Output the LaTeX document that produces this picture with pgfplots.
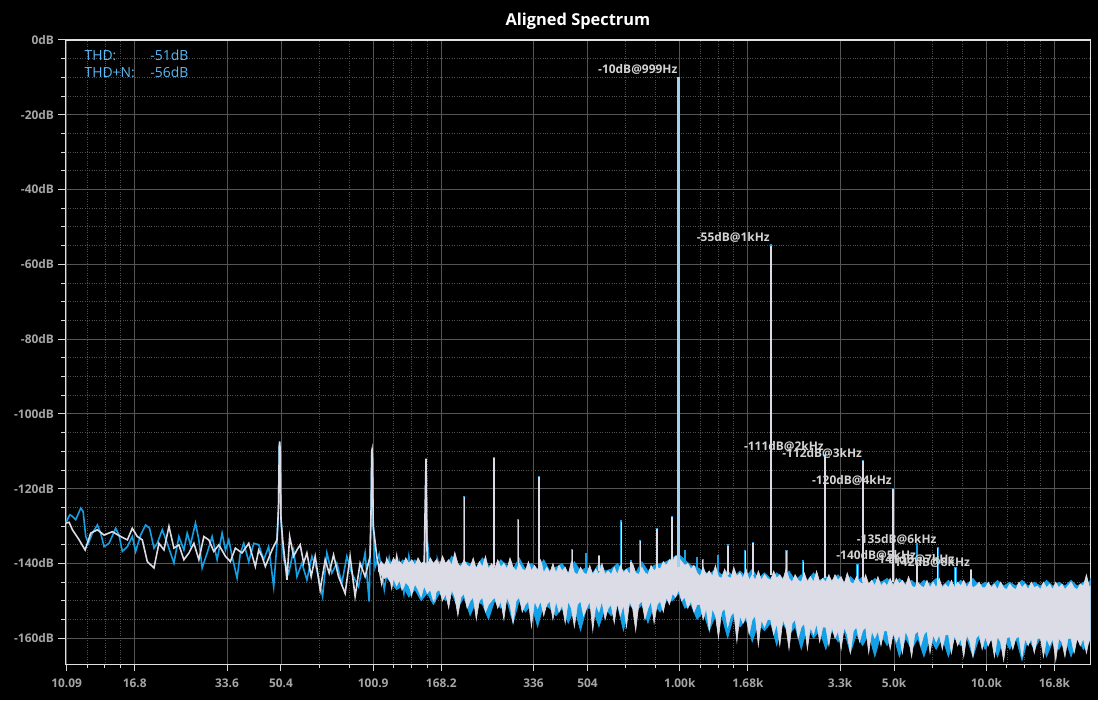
\documentclass[border=0pt]{standalone}
\usepackage{fontspec}
\setmainfont{Open Sans}
\usepackage{pgfplots}
\pgfplotsset{compat=1.18}
\usepackage{pgfplotstable}
\usepgfplotslibrary{fillbetween}
\tikzset{fill between/on layer=main}
\definecolor{sblue}{RGB}{20,160,230}
\definecolor{swhite}{RGB}{220,220,230}
\definecolor{thdc}{RGB}{90,185,245}
\definecolor{annc}{RGB}{212,212,212}
\definecolor{tickc}{RGB}{165,165,165}
\definecolor{gridc}{RGB}{85,85,85}
\definecolor{mgridc}{RGB}{80,80,80}
\definecolor{fundc}{RGB}{160,210,240}

% white series: dense band (log10 f, upper dB, lower dB)
\pgfplotstableread{
lx u l
2.02 -141.0 -142
2.03 -139.5 -143
2.04 -140.5 -144
2.05 -139.0 -143.5
2.06 -140.5 -145
2.07 -138.5 -144
2.08 -140.0 -146
2.09 -139.5 -144.5
2.10 -140.5 -147
2.11 -138.5 -145
2.12 -140.0 -146
2.13 -139.0 -148
2.14 -140.5 -145.5
2.15 -138.5 -147
2.16 -140.0 -149
2.17 -139.5 -146
2.18 -140.5 -148
2.19 -138.5 -147
2.20 -140.0 -150
2.21 -139.0 -147.5
2.22 -140.5 -147
2.23 -138.0 -150
2.24 -140.0 -148
2.25 -139.0 -152
2.26 -140.5 -147
2.27 -137.0 -149
2.28 -140.0 -154
2.29 -141.0 -149
2.30 -139.0 -148
2.31 -140.5 -152
2.32 -141.0 -150
2.33 -138.5 -149
2.34 -141.5 -155
2.35 -139.5 -150
2.36 -141.0 -149
2.37 -138.0 -153
2.38 -141.5 -151
2.39 -140.0 -150
2.40 -141.5 -149
2.41 -139.0 -152
2.42 -141.0 -150
2.43 -140.0 -155
2.44 -141.5 -149
2.45 -138.5 -151
2.46 -141.0 -156
2.47 -142.0 -150
2.48 -140.0 -149
2.49 -141.5 -153
2.50 -142.0 -151
2.51 -139.5 -150
2.52 -142.0 -157
2.53 -140.5 -150
2.54 -142.0 -152
2.55 -139.0 -150
2.56 -142.5 -154
2.57 -141.0 -151
2.58 -142.5 -150
2.59 -140.0 -155
2.60 -142.5 -150
2.61 -140.5 -153
2.62 -142.0 -151
2.63 -141.0 -156
2.64 -143.0 -150
2.65 -139.5 -152
2.66 -142.5 -157
2.67 -143.0 -151
2.68 -141.0 -150
2.69 -142.5 -154
2.70 -143.0 -152
2.71 -140.5 -150
2.72 -143.0 -158
2.73 -141.5 -151
2.74 -143.0 -153
2.75 -140.0 -150
2.76 -143.0 -155
2.77 -142.0 -152
2.78 -143.0 -151
2.79 -141.0 -156
2.80 -143.0 -150.5
2.81 -140.5 -154
2.82 -142.5 -151
2.83 -141.5 -157
2.84 -143.0 -150
2.85 -140.0 -152
2.86 -142.5 -158
2.87 -143.0 -151
2.88 -141.0 -150
2.89 -142.5 -155
2.90 -143.0 -152
2.91 -140.5 -150
2.92 -142.0 -156
2.93 -141.0 -151
2.94 -141.5 -150
2.95 -139.5 -153
2.96 -140.5 -149
2.97 -139.0 -151
2.98 -139.5 -148
2.99 -138.0 -149
3.00 -138.5 -147
3.01 -139.5 -150
3.02 -140.5 -149
3.03 -140.0 -152
3.04 -141.5 -150
3.05 -140.5 -153
3.06 -142.5 -151
3.07 -143.5 -151
3.08 -141.0 -155
3.09 -143.0 -152
3.10 -142.0 -158
3.11 -143.5 -152
3.12 -140.5 -154
3.13 -143.5 -160
3.14 -144.0 -153
3.15 -141.5 -152
3.16 -143.5 -157
3.17 -144.0 -154
3.18 -141.0 -153
3.19 -143.5 -161
3.20 -142.5 -154
3.21 -144.0 -156
3.22 -141.5 -154
3.23 -144.5 -159
3.24 -143.0 -155
3.25 -144.5 -154
3.26 -142.0 -162
3.27 -144.5 -155
3.28 -143.0 -157
3.29 -144.0 -155
3.30 -144.5 -155
3.31 -142.0 -159
3.32 -144.0 -156
3.33 -143.0 -162
3.34 -144.5 -155
3.35 -141.5 -157
3.36 -144.0 -163
3.37 -145.0 -156
3.38 -143.0 -155
3.39 -144.5 -160
3.40 -145.0 -157
3.41 -142.5 -156
3.42 -145.0 -163
3.43 -143.5 -157
3.44 -145.0 -159
3.45 -142.0 -156
3.46 -145.0 -161
3.47 -144.0 -157
3.48 -145.0 -157
3.49 -143.0 -162
3.50 -145.0 -157
3.51 -143.0 -160
3.52 -144.5 -158
3.53 -143.5 -163
3.54 -145.5 -157
3.55 -142.5 -159
3.56 -145.0 -164
3.57 -145.5 -158
3.58 -143.5 -157
3.59 -145.0 -161
3.60 -145.5 -158
3.61 -143.0 -157
3.62 -145.5 -164
3.63 -144.5 -158
3.64 -146.0 -160
3.65 -143.5 -158
3.66 -146.0 -162
3.67 -145.0 -158
3.68 -146.0 -158
3.69 -144.0 -163
3.70 -146.0 -158.5
3.71 -144.0 -161
3.72 -145.5 -159
3.73 -144.5 -164
3.74 -146.0 -158
3.75 -143.5 -160
3.76 -146.0 -165
3.77 -146.5 -159
3.78 -145.0 -158
3.79 -146.0 -162
3.80 -146.5 -159
3.81 -144.5 -158
3.82 -146.5 -164
3.83 -145.0 -159
3.84 -146.5 -161
3.85 -144.0 -159
3.86 -146.5 -163
3.87 -145.5 -159
3.88 -146.5 -159
3.89 -144.5 -164
3.90 -146.5 -159
3.91 -145.0 -162
3.92 -146.0 -160
3.93 -144.5 -165
3.94 -146.5 -159
3.95 -145.0 -161
3.96 -146.5 -165
3.97 -146.0 -160
3.98 -145.0 -159
3.99 -146.5 -163
4.00 -146.5 -159.5
4.01 -145.0 -162
4.02 -146.5 -160
4.03 -145.5 -165
4.04 -147.0 -159.5
4.05 -145.0 -161
4.06 -146.5 -166
4.07 -147.0 -160
4.08 -145.5 -159.5
4.09 -146.5 -163
4.10 -147.0 -160
4.11 -145.0 -159.5
4.12 -146.5 -165
4.13 -145.5 -160
4.14 -147.0 -162
4.15 -145.0 -160
4.16 -146.5 -164
4.17 -146.0 -160
4.18 -147.0 -160
4.19 -145.0 -165
4.20 -146.5 -160
4.21 -145.5 -162
4.22 -147.0 -160
4.23 -145.0 -166
4.24 -146.5 -160
4.25 -145.5 -161
4.26 -147.0 -165
4.27 -146.0 -160
4.28 -145.0 -160
4.29 -146.5 -164
4.30 -147.0 -160
4.31 -145.5 -162
4.32 -146.0 -160
4.33 -143.0 -164
4.34 -146.5 -160
4.3434 -146.0 -161
}\whiteband

% blue series: dense band
\pgfplotstableread{
lx u l
2.04 -141.0 -143
2.06 -139.5 -145
2.08 -141.0 -147
2.10 -139.0 -146
2.12 -140.5 -149
2.14 -139.0 -147
2.16 -141.0 -150
2.18 -139.5 -148
2.20 -140.5 -151
2.22 -139.5 -148
2.24 -141.0 -150
2.26 -138.0 -148
2.28 -141.0 -152
2.30 -139.5 -149
2.32 -140.0 -154
2.34 -141.0 -150
2.36 -138.5 -151
2.38 -140.5 -155
2.40 -141.0 -150
2.42 -139.0 -152
2.44 -140.5 -150
2.46 -141.5 -156
2.48 -138.5 -150
2.50 -141.5 -153
2.52 -140.0 -151
2.54 -141.5 -157
2.56 -139.0 -151
2.58 -142.0 -152
2.60 -141.0 -154
2.62 -140.0 -152
2.64 -142.5 -156
2.66 -139.5 -152
2.68 -142.0 -158
2.70 -141.0 -152
2.72 -142.5 -152
2.74 -140.0 -157
2.76 -142.0 -152
2.78 -141.5 -154
2.80 -140.0 -151
2.82 -142.0 -158
2.84 -141.0 -151
2.86 -142.5 -153
2.88 -139.5 -151
2.90 -142.0 -156
2.92 -140.5 -151
2.94 -140.0 -153
2.96 -139.5 -150
2.98 -138.5 -150
3.00 -137.5 -148
3.02 -139.0 -152
3.04 -140.5 -151
3.06 -141.0 -155
3.08 -142.0 -153
3.10 -143.0 -158
3.12 -141.5 -154
3.14 -143.0 -154
3.16 -142.0 -160
3.18 -143.5 -154
3.20 -142.0 -157
3.22 -143.5 -155
3.24 -141.5 -161
3.26 -144.0 -156
3.28 -142.5 -158
3.30 -144.0 -156
3.32 -142.5 -162
3.34 -144.0 -156
3.36 -142.0 -159
3.38 -144.5 -157
3.40 -143.0 -163
3.42 -144.5 -157
3.44 -142.5 -160
3.46 -144.5 -158
3.48 -143.5 -163
3.50 -144.5 -158
3.52 -143.0 -161
3.54 -145.0 -158
3.56 -143.5 -164
3.58 -145.0 -159
3.60 -143.5 -162
3.62 -145.5 -159
3.64 -144.0 -165
3.66 -145.0 -159
3.68 -144.0 -162
3.70 -145.5 -159
3.72 -144.0 -165
3.74 -145.5 -160
3.76 -144.5 -163
3.78 -146.0 -160
3.80 -144.5 -165
3.82 -145.5 -160
3.84 -144.0 -163
3.86 -146.0 -160
3.88 -144.5 -165
3.90 -146.0 -160
3.92 -144.5 -162
3.94 -145.5 -160
3.96 -144.0 -165
3.98 -146.0 -160
4.00 -145.0 -163
4.02 -146.0 -160
4.04 -144.5 -165
4.06 -146.0 -160
4.08 -145.0 -163
4.10 -146.0 -160
4.12 -144.5 -166
4.14 -146.0 -160
4.16 -145.0 -163
4.18 -146.0 -160
4.20 -144.5 -165
4.22 -146.0 -161
4.24 -145.0 -163
4.26 -146.0 -160
4.28 -144.5 -165
4.30 -146.0 -160
4.32 -145.0 -163
4.34 -145.0 -161
4.3434 -144.0 -161
}\blueband

\begin{document}
\pagecolor{black}
\begin{tikzpicture}
\begin{axis}[
  scale only axis, width=1027.5bp, height=626bp,
  at={(0,0)}, anchor=south west,
  xmin=1.0, xmax=4.3434, ymin=-167, ymax=0,
  axis background/.style={fill=black},
  axis line style={draw=white!88!black, line width=1.3bp},
  tick pos=left, tick align=outside,
  major tick length=7bp, minor tick length=4bp,
  every tick/.style={white!85!black, line width=0.9bp},
  xtick={1.0039,1.2258,1.5268,1.7029,2.0039,2.2258,2.5268,2.7029,3.0039,3.2258,3.5268,3.7029,4.0039,4.2258},
  xticklabels={10.09,16.8,33.6,50.4,100.9,168.2,336,504,1.00k,1.68k,3.3k,5.0k,10.0k,16.8k},
  minor xtick={1.0708,1.1288,1.1800,1.8278,1.9248,2.0708,2.1288,2.1800,2.8278,2.9248,3.0708,3.1288,3.1800,3.8278,3.9248,4.0708,4.1288,4.1800},
  ytick={-160,-140,-120,-100,-80,-60,-40,-20,0},
  yticklabels={-160dB,-140dB,-120dB,-100dB,-80dB,-60dB,-40dB,-20dB,0dB},
  minor y tick num=3,
  grid=both,
  major grid style={gridc, line width=0.8bp},
  minor grid style={mgridc, dotted, line width=0.8bp},
  tick label style={text=tickc, font=\bfseries\fontsize{12}{14}\selectfont},
  xticklabel style={yshift=-4bp},
  yticklabel style={xshift=-1bp},
  title={Aligned Spectrum},
  title style={at={(0.5,1)}, anchor=center, yshift=13bp, text=white, font=\bfseries\fontsize{16.5}{18}\selectfont},
  unbounded coords=jump,
  clip=false,
]
% ---------- blue series ----------
\addplot[name path=bu, draw=sblue, line width=0.6bp] table[x=lx,y=u]{\blueband};
\addplot[name path=bl, draw=sblue, line width=0.6bp] table[x=lx,y=l]{\blueband};
\addplot[fill=sblue, draw=none] fill between[of=bu and bl];
\addplot[sblue, line width=1.6bp] coordinates {
(1.0011,-129.2) (1.0141,-127.0) (1.0229,-127.4) (1.0336,-128.3) (1.0499,-125.2) (1.0577,-126.1)
(1.0662,-132.8) (1.0750,-134.6) (1.0880,-131.9) (1.1042,-129.7) (1.1150,-131.9) (1.1260,-135.5)
(1.1423,-134.6) (1.1638,-130.6) (1.1748,-132.4) (1.1856,-136.8) (1.2019,-135.5) (1.2181,-132.8)
(1.2289,-136.8) (1.2452,-132.4) (1.2614,-129.7) (1.2744,-130.6) (1.2888,-135.9) (1.2995,-134.6)
(1.3158,-131.0) (1.3320,-134.6) (1.3538,-139.9) (1.3700,-132.8) (1.3864,-136.4) (1.3971,-131.9)
(1.4079,-135.0) (1.4241,-129.2) (1.4352,-133.7) (1.4459,-141.2) (1.4622,-137.2) (1.4785,-132.8)
(1.4947,-139.0) (1.5110,-131.9) (1.5218,-136.4) (1.5328,-133.7) (1.5436,-138.1) (1.5598,-143.9)
(1.5706,-137.2) (1.5816,-134.6) (1.5979,-139.5) (1.6142,-134.6) (1.6304,-135.0) (1.6467,-139.0)
(1.6629,-135.5) (1.6792,-146.2) (1.6900,-134.6) (1.6950,-125.0) (1.6975,-109.0) (1.6988,-108.0)
(1.7005,-111.0) (1.7030,-128.0) (1.7118,-139.0) (1.7281,-142.6) (1.7443,-136.4) (1.7550,-143.5)
(1.7713,-139.9) (1.7876,-144.4) (1.8039,-138.1) (1.8201,-141.7) (1.8387,-148.8) (1.8527,-137.2)
(1.8690,-142.6) (1.8852,-139.9) (1.9015,-145.3) (1.9178,-138.1) (1.9340,-142.6) (1.9558,-146.2)
(1.9774,-137.2) (1.9905,-150.2) (1.9970,-126.0) (1.9990,-111.0) (2.0000,-110.5) (2.0015,-113.0)
(2.0040,-131.0) (2.0100,-141.0) (2.0230,-137.5) (2.0400,-147.0) (2.0560,-138.5) (2.0720,-145.0)
(2.0880,-139.5) (2.1040,-148.0) (2.1200,-138.0) (2.1370,-146.0) (2.1530,-141.0) (2.1680,-149.0)
(2.1740,-130.0) (2.1761,-113.0) (2.1785,-132.0) (2.1870,-140.0) (2.2020,-150.0) (2.2120,-139.5)
(2.2250,-148.0)
};
\addplot[sblue, line width=2.3bp] coordinates {
(2.3010,-141) (2.3010,-122.0) (2.3010,nan)
(2.3979,-141) (2.3979,-111.6) (2.3979,nan)
(2.4771,-141) (2.4771,-128.2) (2.4771,nan)
(2.5441,-141) (2.5441,-116.5) (2.5441,nan)
(2.6532,-142) (2.6532,-136.2) (2.6532,nan)
(2.6990,-142) (2.6990,-137.1) (2.6990,nan)
(2.7404,-142) (2.7404,-137.7) (2.7404,nan)
(2.8129,-142) (2.8129,-128.5) (2.8129,nan)
(2.8451,-142) (2.8451,-139.2) (2.8451,nan)
(2.8751,-142) (2.8751,-133.6) (2.8751,nan)
(2.9294,-142) (2.9294,-130.4) (2.9294,nan)
(2.9777,-140) (2.9777,-127.4) (2.9777,nan)
(3.0209,-141) (3.0209,-136.4) (3.0209,nan)
(3.0600,-142) (3.0600,-138.3) (3.0600,nan)
(3.0785,-142) (3.0785,-138.7) (3.0785,nan)
(3.1295,-143) (3.1295,-137.7) (3.1295,nan)
(3.1614,-143) (3.1614,-134.9) (3.1614,nan)
(3.2175,-143) (3.2175,-136.3) (3.2175,nan)
(3.2430,-143) (3.2430,-134.3) (3.2430,nan)
(3.3010,-143) (3.3010,-54.7) (3.3010,nan)
(3.3522,-144) (3.3522,-136.5) (3.3522,nan)
(3.4065,-144) (3.4065,-139.2) (3.4065,nan)
(3.4771,-144) (3.4771,-110.7) (3.4771,nan)
(3.5830,-145) (3.5830,-140.1) (3.5830,nan)
(3.6021,-145) (3.6021,-112.4) (3.6021,nan)
(3.6990,-145) (3.6990,-119.7) (3.6990,nan)
(3.7782,-146) (3.7782,-134.6) (3.7782,nan)
(3.8451,-146) (3.8451,-135.5) (3.8451,nan)
(3.9031,-146) (3.9031,-141.0) (3.9031,nan)
(3.9542,-146) (3.9542,-141.4) (3.9542,nan)
(4.3292,-146) (4.3292,-144.1)
};
% ---------- white series ----------
\addplot[name path=wu, draw=swhite, line width=0.6bp] table[x=lx,y=u]{\whiteband};
\addplot[name path=wl, draw=swhite, line width=0.6bp] table[x=lx,y=l]{\whiteband};
\addplot[fill=swhite, draw=none] fill between[of=wu and wl];
\addplot[swhite, line width=1.6bp] coordinates {
(1.0011,-129.2) (1.0120,-129.0) (1.0229,-131.0) (1.0447,-133.7) (1.0642,-136.4) (1.0824,-131.9)
(1.1042,-131.0) (1.1260,-132.4) (1.1530,-131.5) (1.1800,-132.8) (1.2020,-133.7) (1.2180,-130.6)
(1.2344,-132.8) (1.2507,-133.7) (1.2670,-139.5) (1.2888,-141.2) (1.3050,-134.6) (1.3213,-136.4)
(1.3376,-130.1) (1.3538,-135.9) (1.3700,-135.0) (1.3864,-139.0) (1.4027,-137.2) (1.4190,-134.6)
(1.4352,-139.0) (1.4515,-132.8) (1.4677,-133.7) (1.4840,-136.8) (1.5003,-135.0) (1.5220,-138.1)
(1.5380,-139.5) (1.5543,-135.9) (1.5760,-137.2) (1.5980,-134.6) (1.6194,-140.8) (1.6304,-136.4)
(1.6410,-138.1) (1.6520,-140.8) (1.6737,-136.4) (1.6900,-133.7) (1.6950,-125.0) (1.6975,-108.5)
(1.6988,-107.4) (1.7005,-110.0) (1.7030,-128.0) (1.7085,-133.7) (1.7170,-139.9) (1.7225,-144.4)
(1.7313,-132.8) (1.7443,-138.1) (1.7550,-136.4) (1.7658,-135.0) (1.7769,-139.9) (1.7876,-137.2)
(1.8016,-143.5) (1.8146,-138.1) (1.8309,-147.1) (1.8472,-139.0) (1.8602,-142.6) (1.8745,-137.7)
(1.8907,-143.5) (1.9123,-148.0) (1.9286,-138.1) (1.9448,-148.8) (1.9611,-139.9) (1.9774,-143.5)
(1.9936,-138.1) (1.9970,-125.0) (1.9990,-110.0) (2.0000,-109.6) (2.0015,-112.0) (2.0040,-130.0)
(2.0154,-138.1) (2.0317,-145.3) (2.0480,-139.0) (2.0642,-146.2) (2.0805,-138.1) (2.0968,-146.2)
(2.1130,-139.9) (2.1293,-148.0) (2.1456,-140.8) (2.1618,-147.1) (2.1700,-140.0) (2.1761,-112.0)
(2.1800,-141.0) (2.1944,-141.7) (2.2050,-149.0) (2.2150,-140.0) (2.2250,-146.0)
};
\addplot[swhite, line width=1.5bp] coordinates {
(2.3010,-141) (2.3010,-122.3) (2.3010,nan)
(2.3979,-141) (2.3979,-111.9) (2.3979,nan)
(2.4771,-141) (2.4771,-128.5) (2.4771,nan)
(2.5441,-141) (2.5441,-116.8) (2.5441,nan)
(2.6532,-142) (2.6532,-136.5) (2.6532,nan)
(2.7404,-142) (2.7404,-138.0) (2.7404,nan)
(2.8129,-142) (2.8129,-128.8) (2.8129,nan)
(2.8451,-142) (2.8451,-139.5) (2.8451,nan)
(2.8751,-142) (2.8751,-133.9) (2.8751,nan)
(2.9294,-142) (2.9294,-130.7) (2.9294,nan)
(2.9777,-140) (2.9777,-127.7) (2.9777,nan)
(3.0785,-142) (3.0785,-139.0) (3.0785,nan)
(3.1614,-143) (3.1614,-135.2) (3.1614,nan)
(3.2175,-143) (3.2175,-136.6) (3.2175,nan)
(3.2430,-143) (3.2430,-134.6) (3.2430,nan)
(3.3010,-143) (3.3010,-55.0) (3.3010,nan)
(3.3522,-144) (3.3522,-136.8) (3.3522,nan)
(3.4065,-144) (3.4065,-139.5) (3.4065,nan)
(3.4771,-144) (3.4771,-111.0) (3.4771,nan)
(3.5830,-145) (3.5830,-140.4) (3.5830,nan)
(3.6021,-145) (3.6021,-112.7) (3.6021,nan)
(3.6990,-145) (3.6990,-120.0) (3.6990,nan)
(3.7782,-146) (3.7782,-140.0) (3.7782,nan)
(3.8451,-146) (3.8451,-135.8) (3.8451,nan)
(3.9031,-146) (3.9031,-141.3) (3.9031,nan)
(3.9542,-146) (3.9542,-141.7) (3.9542,nan)
(4.3292,-146) (4.3292,-144.4)
};
% fundamental
\addplot[fundc, line width=2.6bp] coordinates {(2.9996,-141) (2.9996,-10)};
% ---------- annotations ----------
\begin{scope}[every node/.style={anchor=south east, inner sep=0pt, xshift=-1bp, yshift=3bp, text=annc, font=\bfseries\fontsize{12}{14}\selectfont}]
\node at (axis cs:2.9996,-10) {-10dB@999Hz};
\node at (axis cs:3.3010,-55) {-55dB@1kHz};
\node at (axis cs:3.4771,-111) {-111dB@2kHz};
\node at (axis cs:3.6021,-112.7) {-112dB@3kHz};
\node at (axis cs:3.6990,-120) {-120dB@4kHz};
\node at (axis cs:3.8451,-135.8) {-135dB@6kHz};
\node at (axis cs:3.7782,-140) {-140dB@5kHz};
\node at (axis cs:3.9031,-141) {-141dB@7kHz};
\node at (axis cs:3.9542,-142) {-142dB@8kHz};
\end{scope}
\node[anchor=north west, inner sep=0pt, text=thdc, font=\fontsize{14}{17}\selectfont, align=left] at (axis cs:1.062,-2.6)
  {\makebox[60bp][l]{THD:}\makebox[44bp][r]{-51dB}\\\makebox[60bp][l]{THD+N:}\makebox[44bp][r]{-56dB}};
\end{axis}
\pgfresetboundingbox
\useasboundingbox (-63bp,-36bp) rectangle (1035bp,666bp);
\end{tikzpicture}
\end{document}
